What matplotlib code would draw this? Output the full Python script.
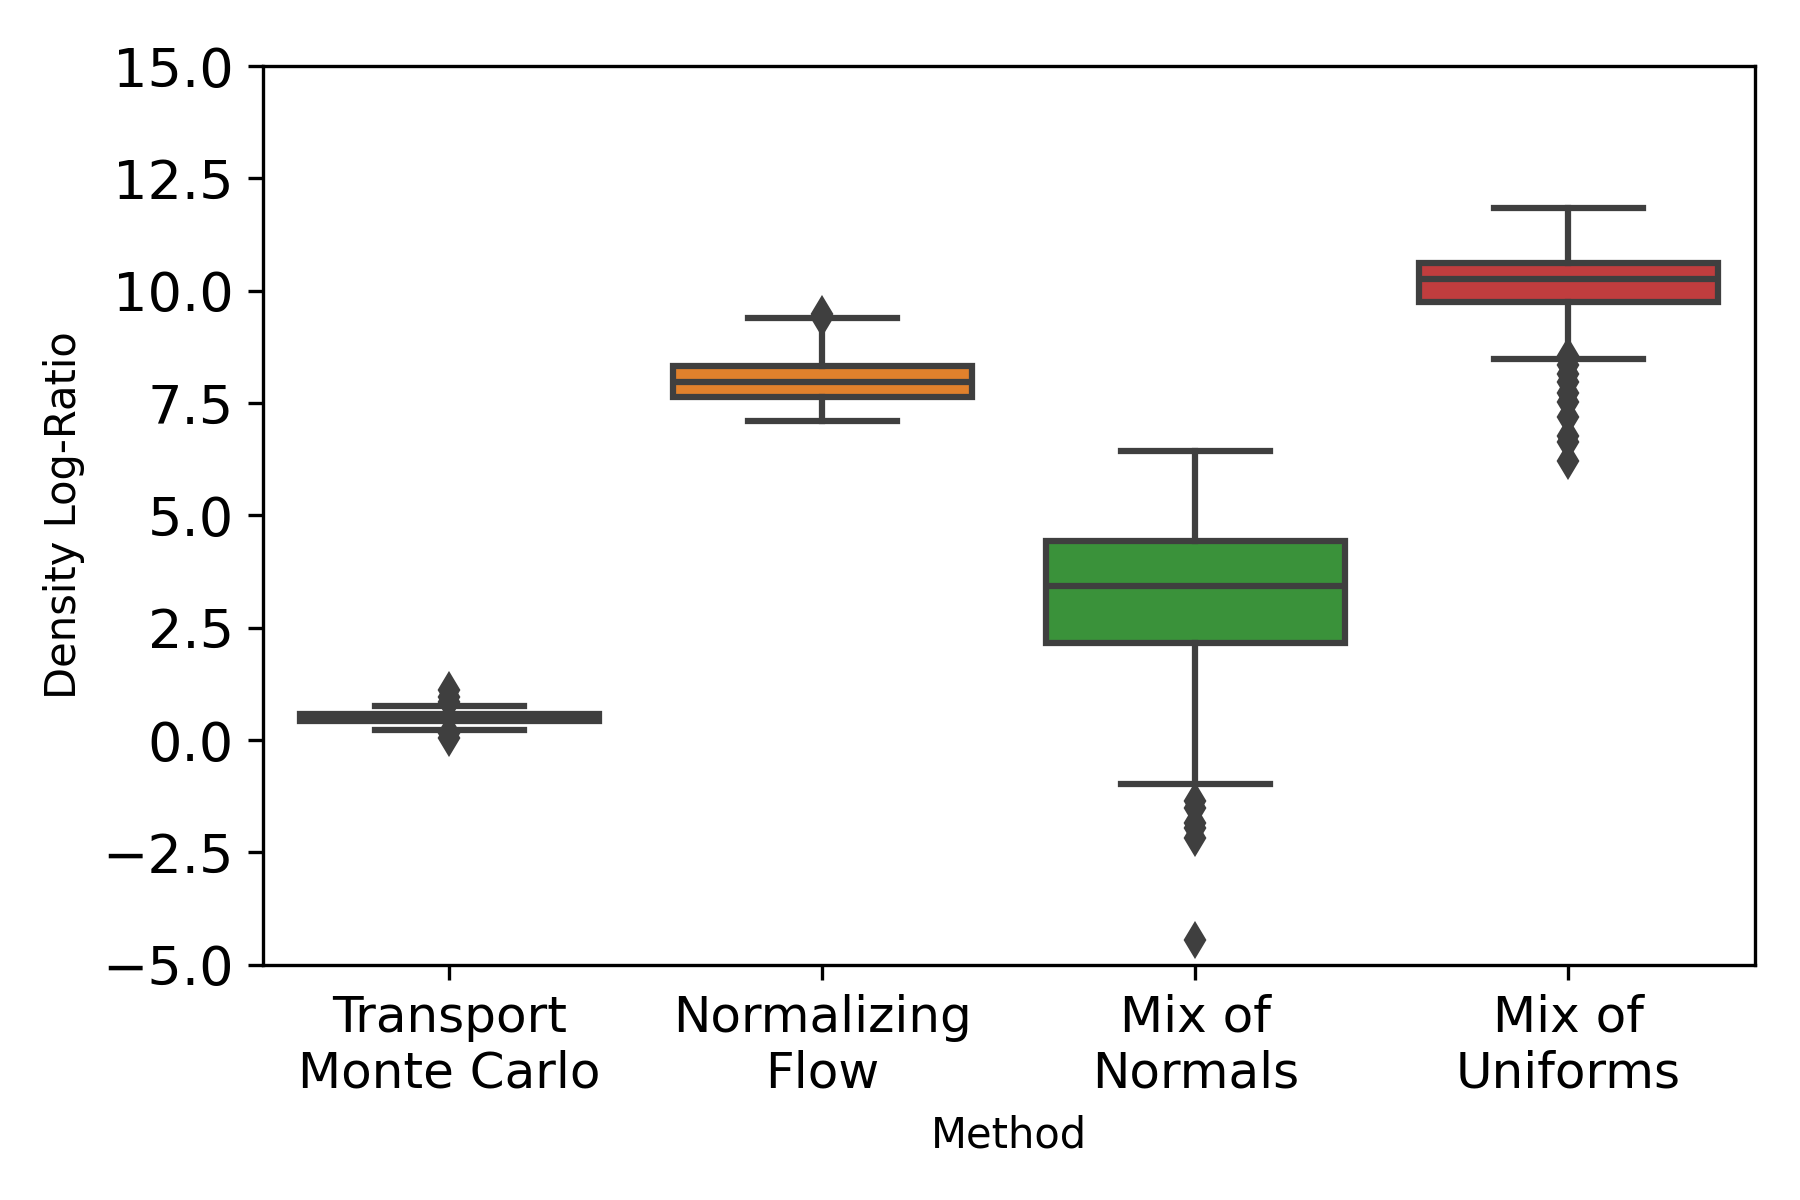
import numpy as np
import matplotlib
matplotlib.use("Agg")
import matplotlib.pyplot as plt

# Box statistics
methods = ["Transport\nMonte Carlo", "Normalizing\nFlow", "Mix of\nNormals", "Mix of\nUniforms"]
q1 = [0.42, 7.63, 2.17, 9.74]
medians = [0.50, 7.96, 3.42, 10.26]
q3 = [0.58, 8.32, 4.44, 10.61]
whisker_low = [0.22, 7.09, -0.97, 8.47]
whisker_high = [0.75, 9.39, 6.43, 11.84]
outliers = [
    [1.12, 0.95, 0.85, 0.15, 0.05],
    [9.48, 9.40],
    [-1.35, -1.52, -1.84, -1.96, -2.17, -4.45],
    [8.55, 8.34, 8.14, 7.96, 7.72, 7.52, 7.19, 6.76, 6.63, 6.20],
]
colors = ["#3274a1", "#e1812c", "#3a923a", "#c03d3e"]
edge = "#3f3f3f"

stats = []
for i in range(len(methods)):
    stats.append(dict(q1=q1[i], med=medians[i], q3=q3[i],
                      whislo=whisker_low[i], whishi=whisker_high[i],
                      fliers=outliers[i], label=methods[i]))

fig = plt.figure(figsize=(6, 4), dpi=300)
ax = fig.add_axes([0.146, 0.196, 0.829, 0.749])

bp = ax.bxp(stats, positions=range(len(methods)), widths=0.8, patch_artist=True,
            boxprops=dict(edgecolor=edge, linewidth=1.5),
            medianprops=dict(color=edge, linewidth=1.5),
            whiskerprops=dict(color=edge, linewidth=1.5),
            capprops=dict(color=edge, linewidth=1.5),
            flierprops=dict(marker="d", markerfacecolor=edge, markeredgecolor=edge,
                            markersize=5, linestyle="none"))
for patch, c in zip(bp["boxes"], colors):
    patch.set_facecolor(c)

ax.set_xlim(-0.5, 3.5)
ax.set_ylim(-5, 15)
ax.set_yticks(np.arange(-5, 15.1, 2.5))
ax.tick_params(axis="x", labelsize=12)
ax.tick_params(axis="y", labelsize=13)
ax.set_xticks(range(len(methods)))
ax.set_xticklabels(methods)
ax.set_xlabel("Method", fontsize=10)
ax.set_ylabel("Density Log-Ratio", fontsize=10)

fig.savefig("out.png", dpi=300)
